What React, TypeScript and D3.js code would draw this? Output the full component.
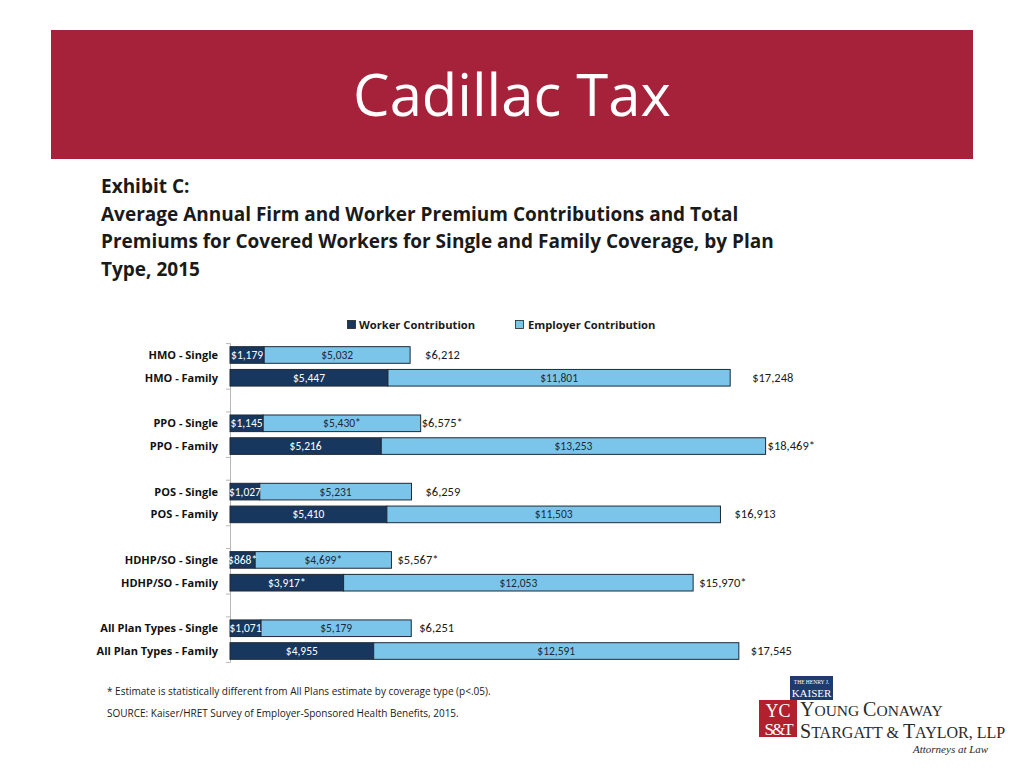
import React from "react";
import * as d3 from "d3";

const planTypes = ["HMO", "PPO", "POS", "HDHP/SO", "All Plan Types"];
const workerSingle = [1179, 1145, 1027, 868, 1071];
const employerSingle = [5032, 5430, 5231, 4699, 5179];
const totalSingle = [6212, 6575, 6259, 5567, 6251];
const workerFamily = [5447, 5216, 5410, 3917, 4955];
const employerFamily = [11801, 13253, 11503, 12053, 12591];
const totalFamily = [17248, 18469, 16913, 15970, 17545];
// statistically significant flags (asterisk)
const workerSingleSig = [false, false, false, true, false];
const employerSingleSig = [false, true, false, true, false];
const totalSingleSig = [false, true, false, true, false];
const workerFamilySig = [false, false, false, true, false];
const employerFamilySig = [false, false, false, false, false];
const totalFamilySig = [false, true, false, true, false];
const seriesNames = ["Worker Contribution", "Employer Contribution"];
const headingLines = [
  "Exhibit C:",
  "Average Annual Firm and Worker Premium Contributions and Total",
  "Premiums for Covered Workers for Single and Family Coverage, by Plan",
  "Type, 2015",
];
const footnotes = [
  "* Estimate is statistically different from All Plans estimate by coverage type (p<.05).",
  "SOURCE:  Kaiser/HRET Survey of Employer-Sponsored Health Benefits, 2015.",
];

// layout-only tweaks for the total labels (px gap after the bar end)
const singleLabelGap = [15, 1, 14, 6, 8];
const familyLabelGap = [22, 2, 14, 6, 12];

const FONT = "Carlito, Lato, 'Open Sans', sans-serif";
const WIDE = "'Open Sans', Lato, sans-serif";
const DARK = "#17375E";
const LIGHT = "#7CC5EA";
const RED = "#A6223A";

const fmt = (v: number, star: boolean) => "$" + d3.format(",")(v) + (star ? "*" : "");

type Row = {
  key: string;
  label: string;
  worker: number;
  employer: number;
  total: number;
  wSig: boolean;
  eSig: boolean;
  tSig: boolean;
  gap: number;
};

export default function App() {
  const rows: Row[] = [];
  const slots: string[] = [];
  planTypes.forEach((p, i) => {
    const s: Row = {
      key: p + "-S",
      label: p + " - Single",
      worker: workerSingle[i],
      employer: employerSingle[i],
      total: totalSingle[i],
      wSig: workerSingleSig[i],
      eSig: employerSingleSig[i],
      tSig: totalSingleSig[i],
      gap: singleLabelGap[i],
    };
    const f: Row = {
      key: p + "-F",
      label: p + " - Family",
      worker: workerFamily[i],
      employer: employerFamily[i],
      total: totalFamily[i],
      wSig: workerFamilySig[i],
      eSig: employerFamilySig[i],
      tSig: totalFamilySig[i],
      gap: familyLabelGap[i],
    };
    rows.push(s, f);
    slots.push(s.key, f.key);
    if (i < planTypes.length - 1) slots.push("blank" + i);
  });

  const x = d3.scaleLinear().domain([0, 20000]).range([230, 810]);
  const y = d3.scaleBand<string>().domain(slots).range([343.6, 662.4]).paddingInner(0).paddingOuter(0);
  const bw = y.bandwidth();
  const barH = bw * 0.73;

  const ticks: number[] = [];
  planTypes.forEach((p) => {
    ticks.push(y(p + "-S")!);
    ticks.push(y(p + "-F")! + bw);
  });

  return (
    <svg width={1024} height={768} style={{ position: "absolute", left: 0, top: 0, background: "#fff" }}>
      <rect x={51} y={30} width={922} height={129} fill={RED} />
      <text x={512} y={116} textAnchor="middle" fill="#fff" fontFamily={WIDE} fontSize={58}>
        Cadillac Tax
      </text>

      {headingLines.map((t, i) => (
        <text key={i} x={101} y={193 + i * 27.5} fontFamily={WIDE} fontWeight={700} fontSize={19} fill="#1a1a1a">
          {t}
        </text>
      ))}

      {/* legend */}
      <g fontFamily={WIDE} fontWeight={700} fontSize={11.2} fill="#1a1a1a">
        <rect x={347.5} y={320.5} width={8} height={8} fill={DARK} stroke="#222" strokeWidth={0.8} />
        <text x={359} y={328.5}>{seriesNames[0]}</text>
        <rect x={515.5} y={320.5} width={8} height={8} fill={LIGHT} stroke="#222" strokeWidth={0.8} />
        <text x={528} y={328.5}>{seriesNames[1]}</text>
      </g>

      {/* axis */}
      <line x1={230.5} x2={230.5} y1={y.range()[0]} y2={y.range()[1]} stroke="#b8b8b8" strokeWidth={1} />
      {ticks.map((t, i) => (
        <line key={i} x1={226} x2={230.5} y1={t} y2={t} stroke="#b8b8b8" strokeWidth={1} />
      ))}

      {rows.map((r) => {
        const yc = y(r.key)! + bw / 2;
        const y0 = yc - barH / 2;
        const xw = x(r.worker);
        const xe = x(r.worker + r.employer);
        return (
          <g key={r.key} fontFamily={FONT}>
            <text x={218} y={yc + 4} textAnchor="end" fontFamily={WIDE} fontWeight={700} fontSize={11} fill="#111">
              {r.label}
            </text>
            <rect x={x(0)} y={y0} width={xw - x(0)} height={barH} fill={DARK} stroke="#1f2a36" strokeWidth={1} />
            <rect x={xw} y={y0} width={xe - xw} height={barH} fill={LIGHT} stroke="#1f2a36" strokeWidth={1} />
            <text x={(x(0) + xw) / 2} y={yc + 4} textAnchor="middle" fontSize={11.5} fill="#fff">
              {fmt(r.worker, r.wSig)}
            </text>
            <text x={(xw + xe) / 2} y={yc + 4} textAnchor="middle" fontSize={11.5} fill="#1a2a3a">
              {fmt(r.employer, r.eSig)}
            </text>
            <text x={xe + r.gap} y={yc + 4} fontSize={12.5} fill="#1a1a1a">
              {fmt(r.total, r.tSig)}
            </text>
          </g>
        );
      })}

      {footnotes.map((t, i) => (
        <text key={i} x={107} y={695 + i * 22} fontFamily={WIDE} fontSize={10} fill="#1a1a1a">
          {t}
        </text>
      ))}

      {/* logo */}
      <g>
        <rect x={790} y={676} width={43} height={24} fill="#1F3B6E" />
        <text x={811.5} y={684} textAnchor="middle" fill="#fff" fontFamily="'Liberation Serif', serif" fontSize={5.5}>
          THE HENRY J.
        </text>
        <text x={811.5} y={697} textAnchor="middle" fill="#fff" fontFamily="'Liberation Serif', serif" fontSize={11}>
          KAISER
        </text>
        <rect x={759} y={700} width={38} height={37} fill="#B3202D" />
        <text x={778} y={717} textAnchor="middle" fill="#fff" fontFamily="'Liberation Serif', serif" fontSize={18}>
          YC
        </text>
        <text x={778} y={735} textAnchor="middle" fill="#fff" fontFamily="'Liberation Serif', serif" fontSize={17} letterSpacing={-2}>
          S&amp;T
        </text>
        <text x={800} y={716} fill="#2a2a2a" fontFamily="'Liberation Serif', serif" fontSize={15.5}>
          <tspan fontSize={20}>Y</tspan>OUNG <tspan fontSize={20}>C</tspan>ONAWAY
        </text>
        <text x={800} y={738} fill="#2a2a2a" fontFamily="'Liberation Serif', serif" fontSize={16}>
          <tspan fontSize={20}>S</tspan>TARGATT &amp; <tspan fontSize={20}>T</tspan>AYLOR, LLP
        </text>
        <text x={913} y={753} fill="#2a2a2a" fontFamily="'Liberation Serif', serif" fontStyle="italic" fontSize={11}>
          Attorneys at Law
        </text>
      </g>
    </svg>
  );
}
